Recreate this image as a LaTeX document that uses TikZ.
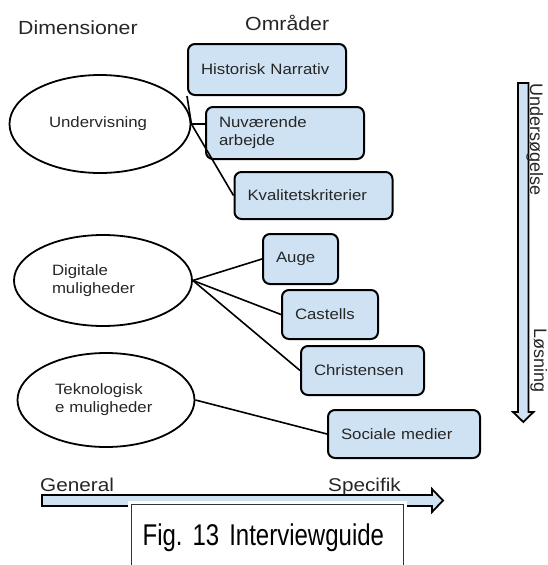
\documentclass[tikz,border=0pt]{standalone}
\usepackage{fontspec}
\setmainfont{Liberation Sans}[FakeStretch=1.12]
\newfontfamily\pilfont{Liberation Sans}
\newfontfamily\figfont{Liberation Sans}[FakeStretch=0.8, WordSpace=0.75]
\usetikzlibrary{shapes}
\definecolor{lyseblaa}{HTML}{CFE2F3}
\frenchspacing
\tikzset{
	omraade/.style={draw=black, line width=2pt, fill=lyseblaa, rounded corners=7pt, anchor=north west, inner xsep=13pt, inner ysep=0pt, align=left, text=black!85, font=\fontsize{15}{18}\selectfont},
	dimension/.style={ellipse, draw=black, line width=1.8pt, inner sep=0pt, text width=102pt, align=left, text=black!85, font=\fontsize{15}{18}\selectfont},
	overskrift/.style={anchor=base west, inner sep=0pt, text=black!85},
	forbind/.style={line width=1.6pt},
	pil/.style={draw=black, line width=1.8pt, fill=lyseblaa},
}

\begin{document}
\begin{tikzpicture}[x=1pt,y=-1pt]
	\useasboundingbox (0,0) rectangle (548,565);
	\node[overskrift, font=\fontsize{19}{22}\selectfont] (dim) at (18,34) {Dimensioner};
	\node[overskrift, font=\fontsize{19}{22}\selectfont] (omr) at (245,30) {Områder};
	
	% dimensioner
	\node[dimension, minimum width=181pt, minimum height=98pt] (und) at (100,124) {Undervisning};
	\node[dimension, minimum width=178pt, minimum height=91pt] (dig) at (103,280.5) {Digitale\\muligheder};
	\node[dimension, minimum width=177pt, minimum height=94pt] (tek) at (106,400) {Teknologisk\\e muligheder};
	
	% omraader
	\node[omraade, minimum width=158pt, minimum height=51pt, text width=132pt] (hist) at (187,43) {Historisk Narrativ};
	\node[omraade, minimum width=158pt, minimum height=52pt, text width=132pt] (nuv) at (205,106) {Nuværende\\arbejde};
	\node[omraade, minimum width=158pt, minimum height=47pt, text width=132pt] (kval) at (233.5,171) {Kvalitetskriterier};
	\node[omraade, minimum width=75pt, minimum height=50pt, text width=49pt] (auge) at (262,233) {Auge};
	\node[omraade, minimum width=96pt, minimum height=49pt, text width=70pt] (castells) at (281,289) {Castells};
	\node[omraade, minimum width=123pt, minimum height=49pt, text width=97pt] (christensen) at (300,345) {Christensen};
	\node[omraade, minimum width=152pt, minimum height=48pt, text width=126pt] (sociale) at (327,409) {Sociale medier};
	
	\draw[forbind] (und.east) -- (hist.south west);
	\draw[forbind] (und.east) -- (und.east -| nuv.west);
	\draw[forbind] (und.east) -- (kval.west);
	\foreach \b in {auge,castells,christensen}
	\draw[forbind] (dig.east) -- (\b.west);
	\draw[forbind] (tek.east) -- (sociale.west);
	
	% pile
	\draw[pil] (518,83) -- (528.5,83) -- (528.5,412) -- (533.5,412) -- (523.3,422) -- (513,412) -- (518,412) -- cycle;
	\node[overskrift, rotate=-90, font=\pilfont\fontsize{18}{20}\selectfont] (undersoeg) at (530,83) {Undersøgelse};
	\node[overskrift, rotate=-90, font=\pilfont\fontsize{18}{20}\selectfont] (loesning) at (534,328) {Løsning};
	
	\draw[pil] (42,495) -- (432,495) -- (432,489) -- (443,500.5) -- (432,512) -- (432,506) -- (42,506) -- cycle;
	\node[overskrift, font=\fontsize{18.5}{22}\selectfont] (general) at (40,491.5) {General};
	\node[overskrift, font=\fontsize{18.5}{22}\selectfont] (specifik) at (328,491.5) {Specifik};
	
	\node[draw=black!80, line width=1.2pt, fill=white, preaction={draw=white, line width=7pt}, anchor=north west, minimum width=272pt, minimum height=66pt, inner xsep=11pt, text width=250pt, align=left, font=\figfont\fontsize{30}{34}\selectfont] (fig) at (131,504) {Fig. 13 Interviewguide};
\end{tikzpicture}
\end{document}
